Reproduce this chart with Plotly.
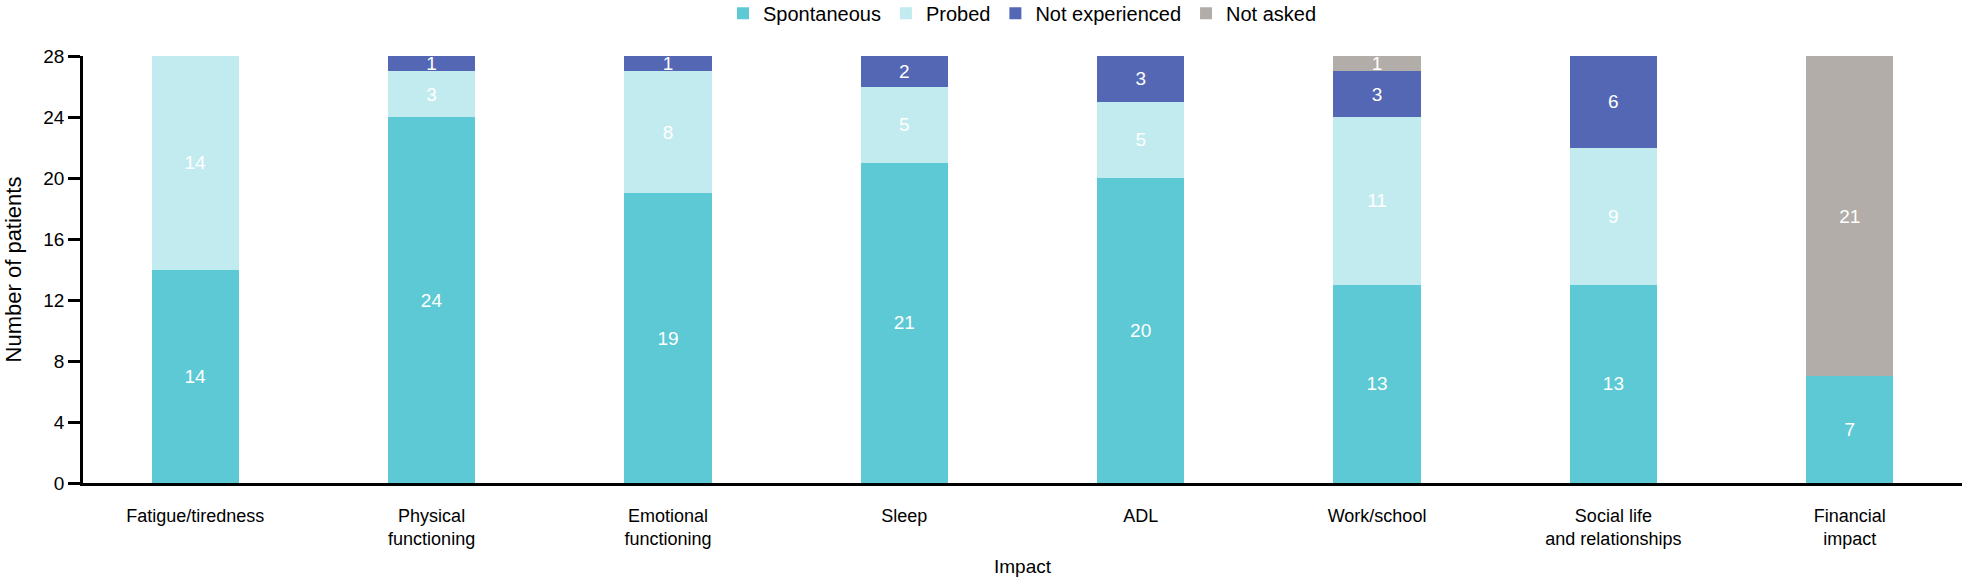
import plotly.graph_objects as go

categories = ["Fatigue/tiredness", "Physical<br>functioning", "Emotional<br>functioning",
              "Sleep", "ADL", "Work/school", "Social life<br>and relationships", "Financial<br>impact"]
spontaneous = [14, 24, 19, 21, 20, 13, 13, 7]
probed = [14, 3, 8, 5, 5, 11, 9, 0]
not_experienced = [0, 1, 1, 2, 3, 3, 6, 0]
not_asked = [0, 0, 0, 0, 0, 1, 0, 21]
y_ticks = [0, 4, 8, 12, 16, 20, 24, 28]

series = [
    ("Spontaneous", spontaneous, "#5CC9D4"),
    ("Probed", probed, "#C2EBF0"),
    ("Not experienced", not_experienced, "#5467B5"),
    ("Not asked", not_asked, "#B2ADA8"),
]

FONT = "Liberation Sans, Arial, sans-serif"
fig = go.Figure()
for name, vals, color in series:
    fig.add_trace(go.Bar(
        x=categories, y=vals, name=name,
        marker=dict(color=color, line=dict(width=0)),
        width=0.37,
        text=[str(v) if v else "" for v in vals],
        textposition="inside", insidetextanchor="middle", textangle=0,
        textfont=dict(color="white", size=19, family=FONT),
        hoverinfo="x+y+name",
    ))

fig.update_layout(
    barmode="stack",
    width=1962, height=581,
    margin=dict(l=83, r=0, t=56, b=98),
    paper_bgcolor="white", plot_bgcolor="white",
    font=dict(family=FONT, size=18, color="black"),
    uniformtext=dict(minsize=19, mode="show"),
    legend=dict(orientation="h", x=0.5, xanchor="center", y=0.977, yanchor="middle",
                yref="container", font=dict(size=20), itemwidth=30, traceorder="normal"),
)
fig.update_xaxes(
    range=[-0.475, 7.475],
    showline=True, linecolor="black", linewidth=3,
    ticks="", ticklabelstandoff=14,
    tickfont=dict(size=18),
    title=dict(text="Impact", font=dict(size=19), standoff=12),
    showgrid=False, zeroline=False,
)
fig.update_yaxes(
    range=[0, 28], tickvals=y_ticks,
    showline=True, linecolor="black", linewidth=2.5,
    ticks="outside", ticklen=12, tickwidth=2.5, tickcolor="black",
    tickfont=dict(size=19),
    title=dict(text="Number of patients", font=dict(size=22), standoff=16),
    showgrid=False, zeroline=False,
)
fig.write_html("out.html", config={"displayModeBar": False},
               post_script="document.body.style.margin='0px';document.body.style.overflow='hidden';")
